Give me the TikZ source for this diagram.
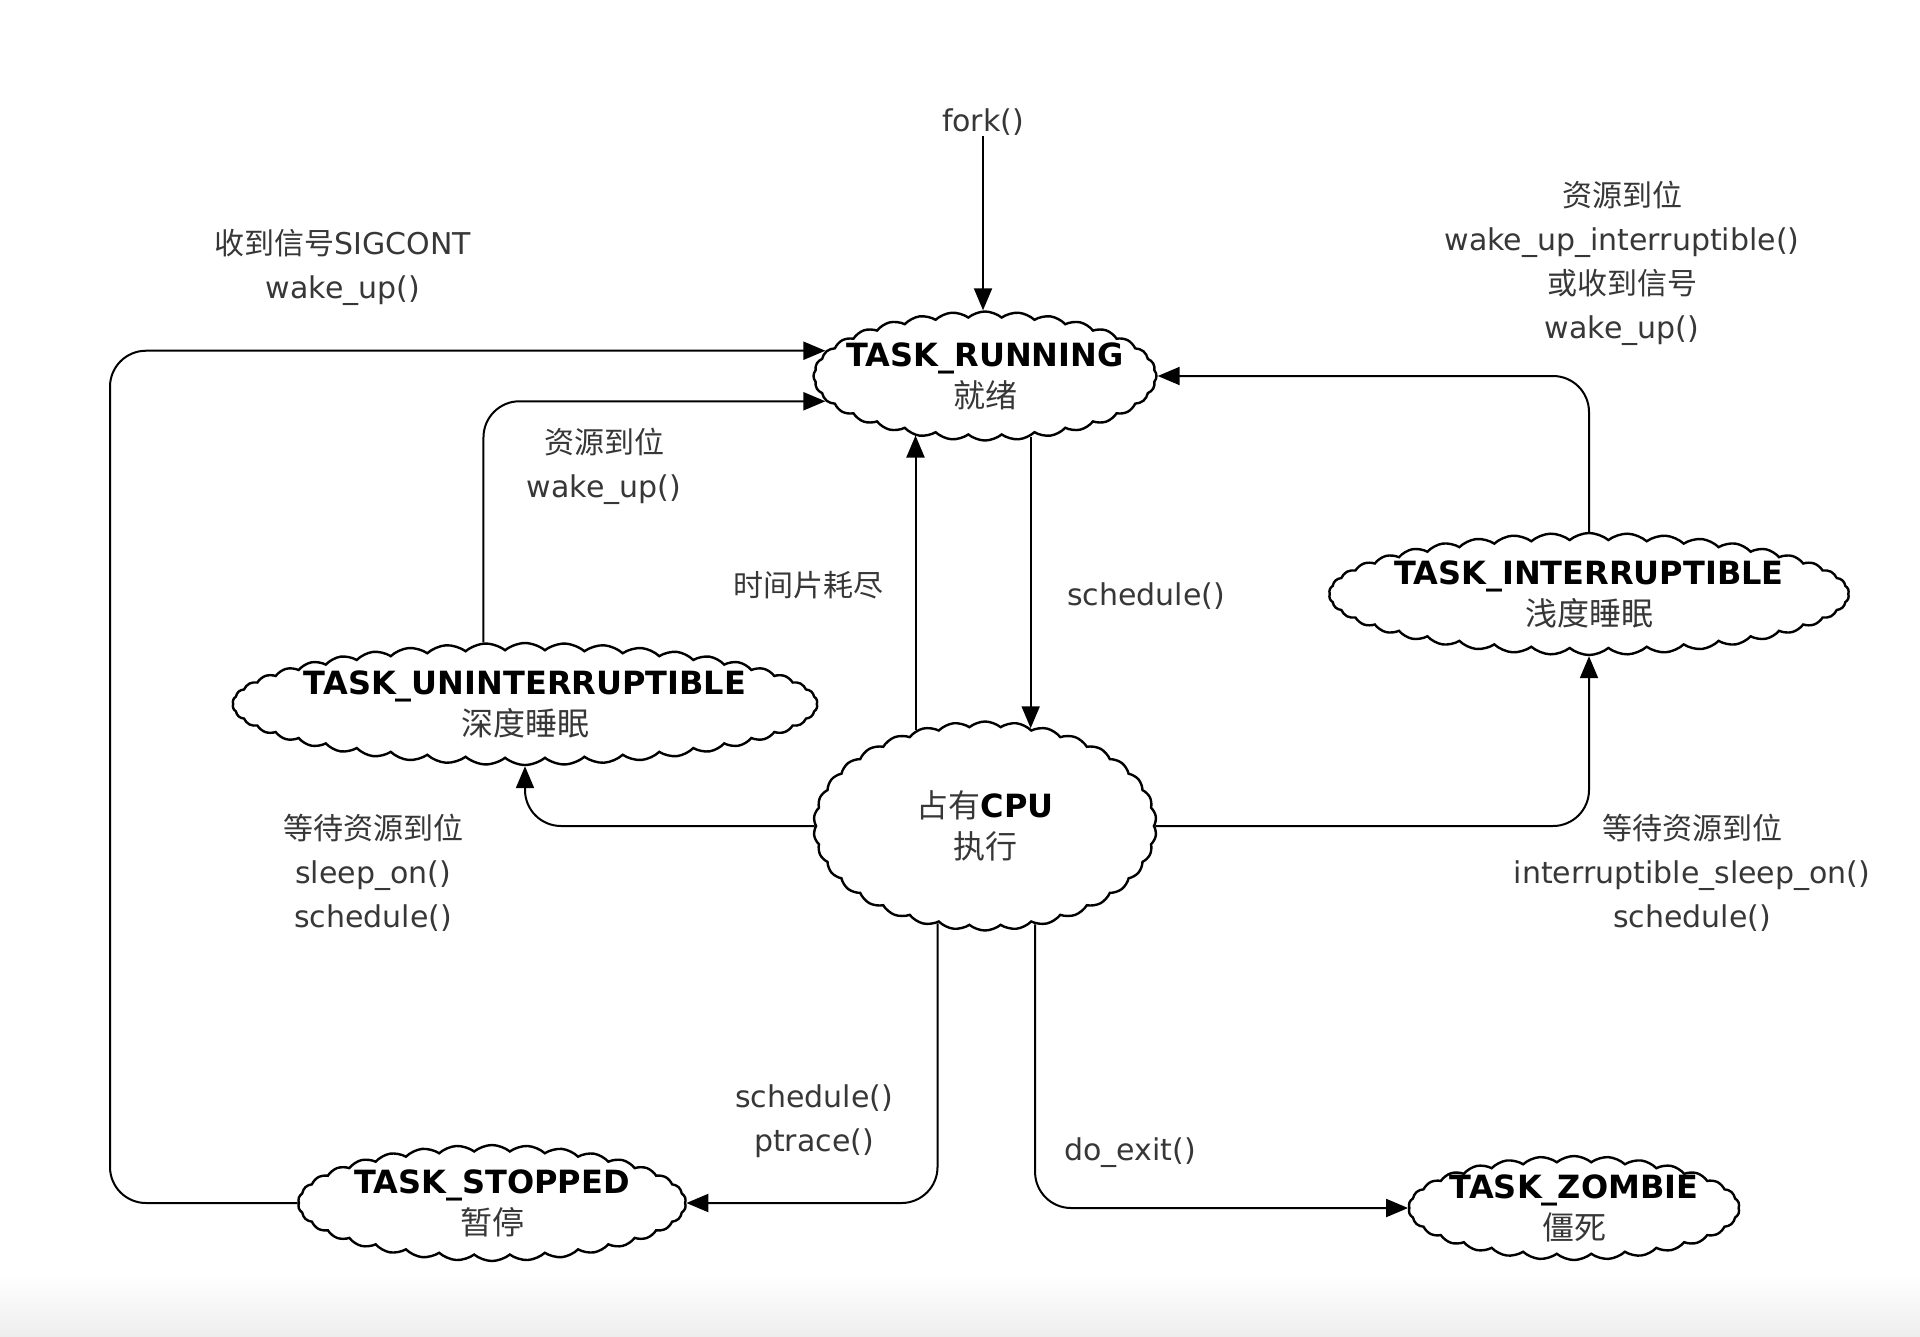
\documentclass[tikz,border=0pt]{standalone}
\usepackage{fontspec}
\setmainfont{DejaVu Sans}
\newfontfamily\cjk{Noto Sans CJK SC}
\usetikzlibrary{shapes.symbols,arrows.meta}
\definecolor{labelgray}{RGB}{55,55,55}
\begin{document}
\begin{tikzpicture}[x=0.5pt,y=-0.5pt,
  statecloud/.style={cloud, cloud puffs=#1, cloud puff arc=80, cloud ignores aspect,
    draw=black, line width=1.2pt, fill=white, inner sep=0pt},
  statecloud/.default=24,
  title/.style={font=\fontsize{16}{20.5}\selectfont\bfseries, align=center, inner sep=0pt},
  lbl/.style={font=\fontsize{15}{22}\selectfont, text=labelgray, align=center, inner sep=0pt},
  arr/.style={draw=black, line width=1pt, rounded corners=18pt,
    -{Triangle[length=11pt,width=9pt]}}]
\useasboundingbox (0,0) rectangle (1920,1337);
\fill[white] (0,0) rectangle (1920,1337);
\shade[top color=white, bottom color=black!7] (0,1275) rectangle (1920,1337);

% state clouds
\node[statecloud=32, minimum width=171.5pt, minimum height=64.5pt] (running) at (985,376) {};
\node[statecloud=42, minimum width=260pt, minimum height=61pt] (inter) at (1589,594) {};
\node[statecloud=46, minimum width=292.5pt, minimum height=61pt] (unint) at (525,704) {};
\node[statecloud=34, minimum width=171.5pt, minimum height=104.5pt] (cpu) at (985,826) {};
\node[statecloud=34, minimum width=194pt, minimum height=58pt] (stopped) at (492,1203) {};
\node[statecloud=30, minimum width=165.5pt, minimum height=52pt] (zombie) at (1574,1208) {};

% state titles
\node[title] (running-t) at (running.center) {TASK\_RUNNING\\{\cjk\mdseries\color{labelgray}就绪}};
\node[title] (inter-t) at (inter.center) {TASK\_INTERRUPTIBLE\\{\cjk\mdseries\color{labelgray}浅度睡眠}};
\node[title] (unint-t) at (unint.center) {TASK\_UNINTERRUPTIBLE\\{\cjk\mdseries\color{labelgray}深度睡眠}};
\node[title] (cpu-t) at (cpu.center) {{\cjk\mdseries\color{labelgray}占有}CPU\\{\cjk\mdseries\color{labelgray}执行}};
\node[title] (stopped-t) at (stopped.center) {TASK\_STOPPED\\{\cjk\mdseries\color{labelgray}暂停}};
\node[title] (zombie-t) at (zombie.center) {TASK\_ZOMBIE\\{\cjk\mdseries\color{labelgray}僵死}};

% labels
\node[lbl] (fork) at (983,122) {fork()};
\node[lbl] (l-sigcont) at (343,267) {{\cjk 收到信号}SIGCONT\\wake\_up()};
\node[lbl] (l-unwake) at (604,466) {{\cjk 资源到位}\\wake\_up()};
\node[lbl] (l-slice) at (808,585) {\cjk 时间片耗尽};
\node[lbl] (l-sched) at (1146,596) {schedule()};
\node[lbl] (l-inwake) at (1622,263) {{\cjk 资源到位}\\wake\_up\_interruptible()\\{\cjk 或收到信号}\\wake\_up()};
\node[lbl] (l-sleep) at (373,873) {{\cjk 等待资源到位}\\sleep\_on()\\schedule()};
\node[lbl] (l-isleep) at (1692,873) {{\cjk 等待资源到位}\\interruptible\_sleep\_on()\\schedule()};
\node[lbl] (l-ptrace) at (814,1121) {schedule()\\ptrace()};
\node[lbl] (l-exit) at (1130,1153) {do\_exit()};

% connectors
\draw[arr] (fork.south) -- (fork.south |- running.north);
\draw[arr] (stopped.west) -- (stopped.west -| 110,0) |- (running.171);
\draw[arr] (unint.124) |- (running.189);
\draw[arr] (cpu.126) -- (cpu.126 |- running.220);
\draw[arr] (running.307) -- (running.307 |- cpu.65);
\draw[arr] (inter.north) |- (running.east);
\draw[arr] (cpu.west) -| (unint.south);
\draw[arr] (cpu.east) -| (inter.south);
\draw[arr] (cpu.244) |- (stopped.east);
\draw[arr] (cpu.297) |- (zombie.west);
\end{tikzpicture}
\end{document}
